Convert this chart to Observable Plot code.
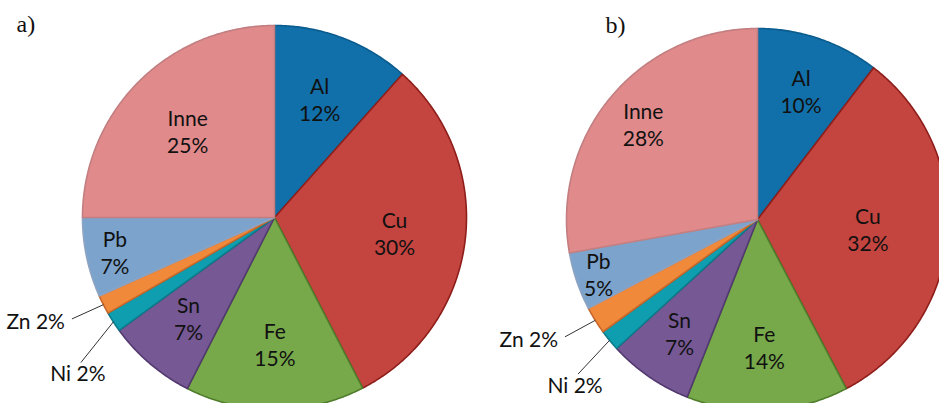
<!DOCTYPE html>
<html><head><meta charset="utf-8">
<script src="https://cdn.jsdelivr.net/npm/d3@7"></script>
<script src="https://cdn.jsdelivr.net/npm/@observablehq/plot@0.6"></script>
<style>
body{margin:0;background:#fff}
#wrap{display:flex;width:939px;height:403px;overflow:hidden}
#wrap svg{display:block;overflow:hidden}
</style>
</head><body><div id="wrap"></div>
<script>
// ---- data ----
const metals  = ["Al", "Cu", "Fe", "Sn", "Ni", "Zn", "Pb", "Inne"];
const sharesA = [11.6, 30.8, 15.1, 7.5, 1.7, 1.6, 6.7, 25.0];
const sharesB = [10.4, 31.9, 13.7, 7.2, 1.8, 2.3, 4.9, 27.8];
const labelsA = ["12%", "30%", "15%", "7%", "2%", "2%", "7%", "25%"];
const labelsB = ["10%", "32%", "14%", "7%", "2%", "2%", "5%", "28%"];
const panelTitles = ["a)", "b)"];

// ---- styles ----
const fills   = ["#1170AA", "#C4443F", "#77A94A", "#765894", "#0E9EAF", "#F1893A", "#7BA3CC", "#E08A8B"];
const strokes = ["#0B5C8E", "#8E1E1A", "#4F7D2B", "#52396F", "#0A7C8A", "#C8672A", "#8EA4C2", "#C27E80"];
const outside = new Set(["Ni", "Zn"]);

// ---- layout per panel ----
const panels = [
  {W: 470, H: 403, cx: 274, cy: 217, r: 192, shares: sharesA, labels: labelsA, title: panelTitles[0], tdx: 16, tdy: 14,
   lr: {Al: .66, Cu: .63, Fe: .66, Sn: .69, Pb: .85, Inne: .64},
   out: {Zn: {rf: 1.18, da: 0.4}, Ni: {rf: 1.26, da: -3.9}}},
  {W: 469, H: 403, cx: 287, cy: 219, r: 191, shares: sharesB, labels: labelsB, title: panelTitles[1], tdx: 135, tdy: 15,
   lr: {Al: .71, Cu: .58, Fe: .67, Sn: .72, Pb: .88, Inne: .78},
   out: {Zn: {rf: 1.18, da: 0.5}, Ni: {rf: 1.24, da: -1.5}}}
];

const rad = d => d * Math.PI / 180;

function buildPanel(p) {
  const total = d3.sum(p.shares);
  const pt = (deg, rf) => ({x: p.cx + p.r * rf * Math.sin(rad(deg)), y: p.cy - p.r * rf * Math.cos(rad(deg))});
  let acc = 0;
  const poly = [], inner = [], links = [], outerText = [];
  metals.forEach((m, i) => {
    const a0 = acc / total * 360;
    acc += p.shares[i];
    const a1 = acc / total * 360;
    const n = Math.max(2, Math.ceil((a1 - a0) / 0.5));
    poly.push({metal: m, x: p.cx, y: p.cy, fill: fills[i], stroke: strokes[i]});
    for (let k = 0; k <= n; k++) {
      const q = pt(a0 + (a1 - a0) * k / n, 1);
      poly.push({metal: m, x: q.x, y: q.y, fill: fills[i], stroke: strokes[i]});
    }
    poly.push({metal: m, x: p.cx, y: p.cy, fill: fills[i], stroke: strokes[i]});
    const mid = (a0 + a1) / 2;
    if (outside.has(m)) {
      const o = p.out[m];
      const s = pt(mid, 1.0), e = pt(mid + o.da, o.rf);
      links.push({x1: s.x, y1: s.y, x2: e.x, y2: e.y});
      outerText.push({x: e.x, y: e.y, text: m + " " + p.labels[i], metal: m});
    } else {
      const c = pt(mid, p.lr[m]);
      inner.push({x: c.x, y: c.y, text: m + "\n" + p.labels[i]});
    }
  });
  const font = "Lato, 'Open Sans', sans-serif";
  return Plot.plot({
    width: p.W, height: p.H,
    margin: 0,
    x: {domain: [0, p.W], range: [0, p.W], axis: null},
    y: {domain: [0, p.H], range: [0, p.H], axis: null},
    color: {type: "identity"},
    style: {background: "#fff"},
    marks: [
      Plot.line(poly, {x: "x", y: "y", z: "metal", fill: "fill", stroke: "stroke", strokeWidth: 1.6, strokeLinejoin: "round", curve: "linear"}),
      Plot.text(inner, {x: "x", y: "y", text: "text", fontSize: 21, lineHeight: 1.28, fill: "#111", fontFamily: font}),
      Plot.link(links, {x1: "x1", y1: "y1", x2: "x2", y2: "y2", stroke: "#333", strokeWidth: 1}),
      Plot.text(outerText.filter(d => d.metal === "Zn"), {x: "x", y: "y", text: "text", textAnchor: "end", dx: -7, dy: 3, fontSize: 21, fill: "#111", fontFamily: font}),
      Plot.text(outerText.filter(d => d.metal === "Ni"), {x: "x", y: "y", text: "text", textAnchor: "middle", dx: -3, dy: 12, fontSize: 21, fill: "#111", fontFamily: font}),
      Plot.text([p.title], {frameAnchor: "top-left", dx: p.tdx, dy: p.tdy, fontSize: 24, fill: "#111", fontFamily: "'Liberation Serif', 'Times New Roman', serif"})
    ]
  });
}

const wrap = document.getElementById("wrap");
panels.forEach(p => wrap.appendChild(buildPanel(p)));
</script>
</body></html>
